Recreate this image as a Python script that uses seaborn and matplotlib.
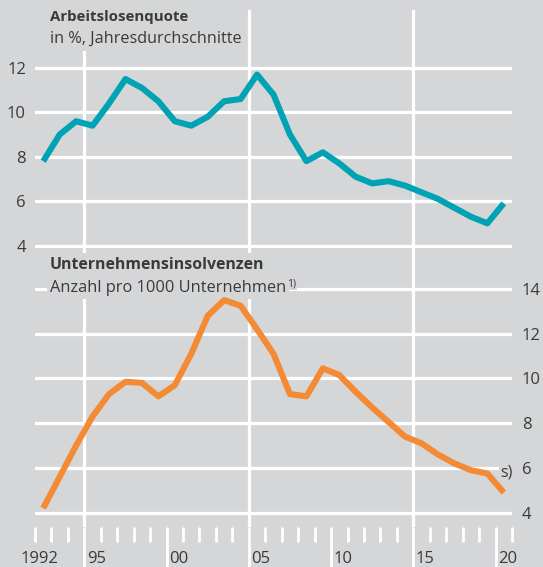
import matplotlib
matplotlib.use("Agg")
import matplotlib.pyplot as plt
import seaborn as sns
import pandas as pd
import numpy as np
from matplotlib.ticker import FixedLocator, NullFormatter

years = list(range(1992, 2021))
arbeitslosenquote = [7.8, 9.0, 9.6, 9.4, 10.4, 11.5, 11.1, 10.5, 9.6, 9.4, 9.8, 10.5,
                     10.6, 11.7, 10.8, 9.0, 7.8, 8.2, 7.7, 7.1, 6.8, 6.9, 6.7, 6.4,
                     6.1, 5.7, 5.3, 5.0, 5.9]
insolvenzen = [4.2, 5.6, 7.0, 8.3, 9.3, 9.85, 9.8, 9.2, 9.7, 11.1, 12.8, 13.5, 13.25,
               12.2, 11.1, 9.3, 9.2, 10.45, 10.15, 9.4, 8.7, 8.05, 7.4, 7.1, 6.6,
               6.2, 5.9, 5.75, 4.9]
top_yticks = [4, 6, 8, 10, 12]
bottom_yticks = [4, 6, 8, 10, 12, 14]
label_years = [1992, 1995, 2000, 2005, 2010, 2015, 2020]
label_texts = ["1992", "95", "00", "05", "10", "15", "20"]

df = pd.DataFrame({"Jahr": years, "ALQ": arbeitslosenquote, "INS": insolvenzen})

BG = "#d5d6d8"
TEAL = "#00a3b3"
ORANGE = "#f48a33"
TXT = "#3a3a3a"

sns.set_theme(style="white")
plt.rcParams["font.family"] = ["Open Sans", "DejaVu Sans"]

W, H = 543, 567
fig = plt.figure(figsize=(W / 100, H / 100), dpi=100, facecolor=BG)

def px_rect(x0, x1, ytop, ybot):
    return [x0 / W, (H - ybot) / H, (x1 - x0) / W, (ybot - ytop) / H]

ax1 = fig.add_axes(px_rect(35, 512, 10, 248))
ax2 = fig.add_axes(px_rect(35, 512, 248, 527))

xmin, xmax = years[0] - 0.5, years[-1] + 0.5
grid_x = [1994.5, 2004.5, 2014.5]

for ax in (ax1, ax2):
    ax.set_facecolor(BG)
    for s in ax.spines.values():
        s.set_visible(False)
    ax.set_axisbelow(True)
    ax.grid(True, axis="y", color="white", linewidth=2.3)
    ax.set_xlim(xmin, xmax)
    for gx in grid_x:
        ax.axvline(gx, color="white", linewidth=2.3, zorder=0.5)

sns.lineplot(data=df, x="Jahr", y="ALQ", ax=ax1, color=TEAL, linewidth=4.4,
             solid_capstyle="butt", zorder=3)
sns.lineplot(data=df, x="Jahr", y="INS", ax=ax2, color=ORANGE, linewidth=4.4,
             solid_capstyle="butt", zorder=3)
for ax in (ax1, ax2):
    ax.set_xlim(xmin, xmax)
    ax.set_xlabel(""); ax.set_ylabel("")

# top axis
ax1.set_ylim(3.89, 14.61)
ax1.yaxis.set_major_locator(FixedLocator(top_yticks))
ax1.set_yticklabels([str(v) for v in top_yticks])
ax1.tick_params(axis="y", length=0, pad=6.5, labelsize=12, labelcolor=TXT)
ax1.set_xticks([])

# bottom axis
ax2.set_ylim(3.36, 15.83)
ax2.yaxis.tick_right()
ax2.yaxis.set_major_locator(FixedLocator(bottom_yticks))
ax2.set_yticklabels([str(v) for v in bottom_yticks])
ax2.tick_params(axis="y", length=0, pad=7, labelsize=12, labelcolor=TXT)

ax2.xaxis.set_major_locator(FixedLocator([1994.5, 1999.5, 2004.5, 2009.5, 2014.5, 2019.5]))
ax2.xaxis.set_major_formatter(NullFormatter())
ax2.xaxis.set_minor_locator(FixedLocator(np.arange(xmin, xmax + 0.1, 1.0)))
ax2.tick_params(axis="x", which="major", length=29, width=2, color="white", direction="out",
                bottom=True)
ax2.tick_params(axis="x", which="minor", length=10.8, width=2, color="white", direction="out",
                bottom=True)

label_pos = [y + (-0.25 if len(t) == 4 else 0.22) for y, t in zip(label_years, label_texts)]
sec = ax2.secondary_xaxis("bottom")
sec.set_xticks(label_pos)
sec.set_xticklabels(label_texts)
sec.tick_params(length=0, pad=17, labelsize=12, labelcolor=TXT)
for s in sec.spines.values():
    s.set_visible(False)

# titles with masks
mask = dict(boxstyle="square,pad=0.25", facecolor=BG, edgecolor="none")
ax1.text(0.031, 0.954, "Arbeitslosenquote", transform=ax1.transAxes, fontsize=10.8,
         fontweight="bold", color=TXT, va="baseline", ha="left", zorder=1, bbox=mask)
ax1.text(0.031, 0.861, "in %, Jahresdurchschnitte", transform=ax1.transAxes, fontsize=11.7,
         color=TXT, va="baseline", ha="left", zorder=1, bbox=mask)
ax2.text(0.031, 0.925, "Unternehmensinsolvenzen", transform=ax2.transAxes, fontsize=11.4,
         fontweight="bold", color=TXT, va="baseline", ha="left", zorder=1, bbox=mask)
sub = ax2.text(0.031, 0.843, "Anzahl pro 1000 Unternehmen", transform=ax2.transAxes,
               fontsize=11.8, color=TXT, va="baseline", ha="left", zorder=1,
               bbox=dict(boxstyle="square,pad=0.2", facecolor=BG, edgecolor="none"))
fig.canvas.draw()
bb = sub.get_window_extent()
inv = ax2.transAxes.inverted()
xr, _ = inv.transform((bb.x1 + 1, bb.y1))
ax2.text(xr, 0.862, "1)", transform=ax2.transAxes, fontsize=7.5, color=TXT,
         va="baseline", ha="left", zorder=1,
         bbox=dict(boxstyle="square,pad=0.05", facecolor=BG, edgecolor="none"))

ax2.text(2019.8, 5.8, "s)", fontsize=11.5, color=TXT, va="center", ha="left", zorder=1,
         bbox=dict(boxstyle="square,pad=0.1", facecolor=BG, edgecolor="none"))

fig.savefig("out.png", dpi=100, facecolor=BG)
